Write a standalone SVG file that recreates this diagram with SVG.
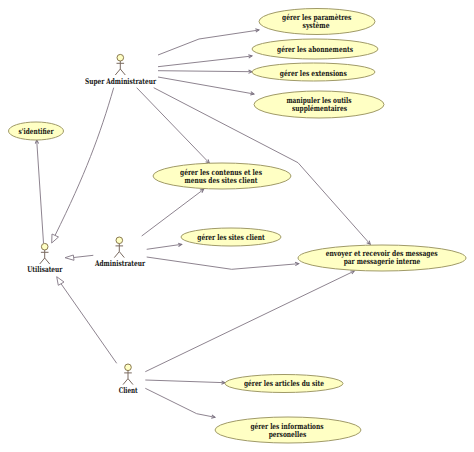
<svg xmlns="http://www.w3.org/2000/svg" width="474" height="452" viewBox="0 0 474 452">
<style>
.uc{fill:#ffffc4;stroke:#a09a68;stroke-width:1}
.t{font-family:"DejaVu Serif","Liberation Serif",serif;font-weight:bold;font-size:7.800px;fill:#111;text-anchor:middle;text-rendering:geometricPrecision;opacity:.98}
.l{fill:none;stroke:#8e8490;stroke-width:1}
.h{fill:#fff;stroke:#8e8490;stroke-width:1}
.head{fill:#ffffc4;stroke:#8a7a50;stroke-width:1}
.body{fill:none;stroke:#7a6a60;stroke-width:1}
</style>
<defs>
<marker id="a" markerUnits="userSpaceOnUse" markerWidth="7" markerHeight="6" refX="5" refY="3" orient="auto"><path d="M1.500 1.300L5 3L1.500 4.700" fill="none" stroke="#7a7080" stroke-width="1"/></marker>
<g id="actor"><circle cx="0" cy="-10" r="3.300" class="head"/><path class="body" d="M0-6.700V1.300M-3.800-4.400H3.800M0 1.300L-5 7.300M0 1.300L5 7.300"/></g>
</defs>
<rect width="474" height="452" fill="#fff"/>
<g id="connectors">
<path class="l" marker-end="url(#a)" d="M158 55L199 39L259 30"/>
<path class="l" marker-end="url(#a)" d="M158 66.700L252 56"/>
<path class="l" marker-end="url(#a)" d="M158 70.700L252 71.700"/>
<path class="l" marker-end="url(#a)" d="M158 77L254 94"/>
<path class="l" marker-end="url(#a)" d="M136.700 87.700L209.300 163"/>
<path class="l" marker-end="url(#a)" d="M153.700 87.700L298 162.700L370.300 244.300"/>
<path class="l" marker-end="url(#a)" d="M43.500 243L36.700 140"/>
<path class="l" marker-end="url(#a)" d="M141.700 236L203.700 189.300"/>
<path class="l" marker-end="url(#a)" d="M146.700 249.300L181.700 244.300"/>
<path class="l" marker-end="url(#a)" d="M146.700 257L231.700 269.300L298.700 263.700"/>
<path class="l" marker-end="url(#a)" d="M145.300 371.700L354.300 271"/>
<path class="l" marker-end="url(#a)" d="M145.300 380L225 382.700"/>
<path class="l" marker-end="url(#a)" d="M145.300 388.300L196.700 413.700L215 417.300"/>
<path class="l" d="M113.700 87.700C100 135 85 175 55 235.500"/><path class="h" d="M51.700 243L52 234L58.500 237Z"/>
<path class="l" d="M93.300 255.300L73.700 257.500"/><path class="h" d="M65 257.700L73.300 255L74 260.300Z"/>
<path class="l" d="M116.700 363.300L61 283.700"/><path class="h" d="M56.700 276.700L64 282L58.300 285.300Z"/>
</g>
<g id="uc-parametres"><ellipse class="uc" cx="317" cy="21.500" rx="58" ry="13"/><text class="t" x="316.700" y="20.300" textLength="69.300" lengthAdjust="spacingAndGlyphs">gérer les paramètres</text><text class="t" x="316" y="28" textLength="27" lengthAdjust="spacingAndGlyphs">système</text></g>
<g id="uc-abonnements"><ellipse class="uc" cx="315" cy="49" rx="63" ry="10"/><text class="t" x="315" y="52" textLength="76" lengthAdjust="spacingAndGlyphs">gérer les abonnements</text></g>
<g id="uc-extensions"><ellipse class="uc" cx="313.500" cy="72" rx="61.500" ry="9"/><text class="t" x="313.300" y="75.500" textLength="67" lengthAdjust="spacingAndGlyphs">gérer les extensions</text></g>
<g id="uc-outils"><ellipse class="uc" cx="319" cy="104.500" rx="65" ry="13.500"/><text class="t" x="319" y="103" textLength="65" lengthAdjust="spacingAndGlyphs">manipuler les outils</text><text class="t" x="319.500" y="110.500" textLength="55" lengthAdjust="spacingAndGlyphs">supplémentaires</text></g>
<g id="uc-identifier"><ellipse class="uc" cx="36" cy="131" rx="27.500" ry="9"/><text class="t" x="36" y="133.700" textLength="35" lengthAdjust="spacingAndGlyphs">s'identifier</text></g>
<g id="uc-contenus"><ellipse class="uc" cx="222" cy="176" rx="69" ry="13"/><text class="t" x="221" y="175" textLength="82" lengthAdjust="spacingAndGlyphs">gérer les contenus et les</text><text class="t" x="221" y="182.700" textLength="73" lengthAdjust="spacingAndGlyphs">menus des sites client</text></g>
<g id="uc-sites"><ellipse class="uc" cx="231" cy="237" rx="50" ry="9"/><text class="t" x="231" y="239.700" textLength="67.400" lengthAdjust="spacingAndGlyphs">gérer les sites client</text></g>
<g id="uc-messages"><ellipse class="uc" cx="382" cy="258" rx="84" ry="13"/><text class="t" x="381.700" y="256.300" textLength="112" lengthAdjust="spacingAndGlyphs">envoyer et recevoir des messages</text><text class="t" x="382" y="264" textLength="76.700" lengthAdjust="spacingAndGlyphs">par messagerie interne</text></g>
<g id="uc-articles"><ellipse class="uc" cx="284" cy="383.500" rx="59" ry="9"/><text class="t" x="284" y="386.300" textLength="80" lengthAdjust="spacingAndGlyphs">gérer les articles du site</text></g>
<g id="uc-informations"><ellipse class="uc" cx="288" cy="430" rx="73" ry="13"/><text class="t" x="287" y="429" textLength="73" lengthAdjust="spacingAndGlyphs">gérer les informations</text><text class="t" x="287.500" y="436.700" textLength="37.700" lengthAdjust="spacingAndGlyphs">personelles</text></g>
<g id="actor-super"><use href="#actor" x="120.300" y="67.700"/><text class="t" x="120.500" y="83.500" textLength="71" lengthAdjust="spacingAndGlyphs">Super Administrateur</text></g>
<g id="actor-admin"><use href="#actor" x="119.300" y="250.300"/><text class="t" x="120" y="266" textLength="50" lengthAdjust="spacingAndGlyphs">Administrateur</text></g>
<g id="actor-utilisateur"><use href="#actor" x="44.700" y="256.700"/><text class="t" x="44.800" y="272" textLength="35" lengthAdjust="spacingAndGlyphs">Utilisateur</text></g>
<g id="actor-client"><use href="#actor" x="128" y="377.300"/><text class="t" x="128.200" y="392.700" textLength="19" lengthAdjust="spacingAndGlyphs">Client</text></g>
</svg>
